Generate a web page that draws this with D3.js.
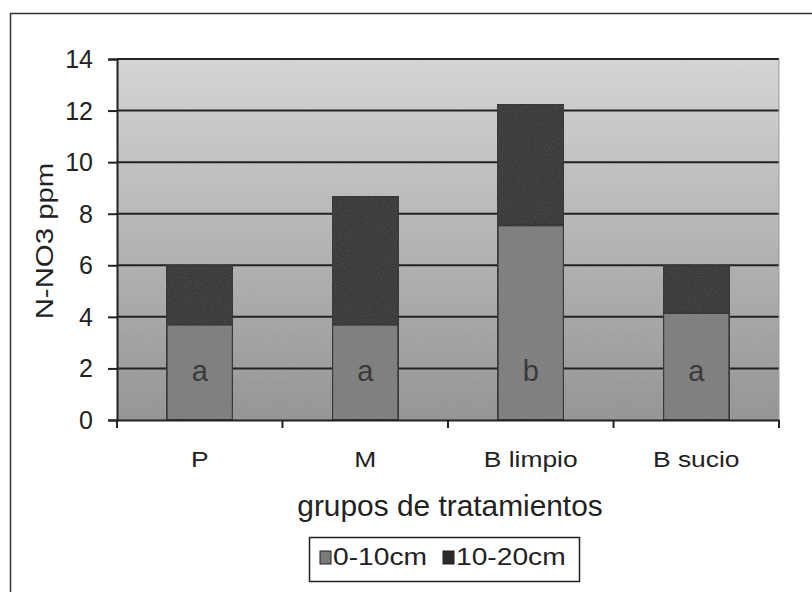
<!DOCTYPE html>
<html>
<head>
<meta charset="utf-8">
<script src="https://cdn.jsdelivr.net/npm/d3@7"></script>
<style>
  html, body { margin: 0; padding: 0; background: #fff; }
  svg { display: block; font-family: "Liberation Sans", Arial, sans-serif; }
</style>
</head>
<body>
<svg id="chart" width="812" height="592"></svg>
<script>
// Nitrate (N-NO3, ppm) by treatment group, stacked by soil depth
const categories = ["P", "M", "B limpio", "B sucio"];
const depth0to10 = [3.7, 3.7, 7.55, 4.15];
const depth10to20 = [2.3, 4.95, 4.7, 1.83];
const groupLetters = ["a", "a", "b", "a"];
const seriesNames = ["0-10cm", "10-20cm"];
const yTicks = [0, 2, 4, 6, 8, 10, 12, 14];

const svg = d3.select("#chart");
const W = 812, H = 592;
const plot = { left: 117, right: 779, top: 59, bottom: 420 };
const ink = "#222";
const colors = ["#7b7b7b", "#2b2b2b"];
const FONT = "Liberation Sans, Arial, sans-serif";

// outer frame (top and left edges are inside the view)
svg.append("rect").attr("x", 10.5).attr("y", 13.5)
  .attr("width", W + 20).attr("height", H + 20)
  .attr("fill", "#fff").attr("stroke", "#333").attr("stroke-width", 1.5);

const x = d3.scaleBand().domain(categories).range([plot.left, plot.right])
  .paddingInner(0.6).paddingOuter(0.3);
const xBand = d3.scaleBand().domain(categories).range([plot.left, plot.right]);
const y = d3.scaleLinear().domain([0, 14]).range([plot.bottom, plot.top]);

// plot background gradient with a light grain
const defs = svg.append("defs");
const grad = defs.append("linearGradient").attr("id", "bg")
  .attr("x1", 0).attr("y1", 0).attr("x2", 0).attr("y2", 1);
grad.append("stop").attr("offset", "0%").attr("stop-color", "#d6d6d6");
grad.append("stop").attr("offset", "100%").attr("stop-color", "#939393");

const noise = defs.append("filter").attr("id", "grain")
  .attr("x", 0).attr("y", 0).attr("width", 1).attr("height", 1);
noise.append("feTurbulence").attr("type", "fractalNoise")
  .attr("baseFrequency", 0.9).attr("numOctaves", 1).attr("seed", 3).attr("result", "n");
noise.append("feColorMatrix").attr("in", "n").attr("type", "matrix")
  .attr("values", "0 0 0 0 0.5  0 0 0 0 0.5  0 0 0 0 0.5  0 0 0 0.12 0").attr("result", "g");
noise.append("feComposite").attr("in", "g").attr("in2", "SourceGraphic").attr("operator", "in").attr("result", "gc");
const merge = noise.append("feMerge");
merge.append("feMergeNode").attr("in", "SourceGraphic");
merge.append("feMergeNode").attr("in", "gc");

svg.append("rect")
  .attr("x", plot.left).attr("y", plot.top)
  .attr("width", plot.right - plot.left).attr("height", plot.bottom - plot.top)
  .attr("fill", "url(#bg)").attr("filter", "url(#grain)");

// horizontal gridlines
svg.append("g").selectAll("line").data(yTicks.filter(d => d > 0)).join("line")
  .attr("x1", plot.left).attr("x2", plot.right)
  .attr("y1", d => y(d)).attr("y2", d => y(d))
  .attr("stroke", ink).attr("stroke-width", 2);

// right edge of plot area
svg.append("line").attr("x1", plot.right).attr("x2", plot.right)
  .attr("y1", plot.top).attr("y2", plot.bottom)
  .attr("stroke", "#999").attr("stroke-width", 1);

// stacked bars
const rows = categories.map((c, i) => ({ cat: c, s0: depth0to10[i], s1: depth10to20[i] }));
const stacked = d3.stack().keys(["s0", "s1"])(rows);
svg.append("g").selectAll("g").data(stacked).join("g")
  .attr("fill", (d, i) => colors[i])
  .selectAll("rect").data(d => d).join("rect")
  .attr("x", d => x(d.data.cat))
  .attr("y", d => y(d[1]))
  .attr("width", x.bandwidth())
  .attr("height", d => y(d[0]) - y(d[1]))
  .attr("stroke", ink).attr("stroke-width", 2)
  .attr("filter", "url(#grain)");

// group letters
svg.append("g").selectAll("text").data(categories).join("text")
  .attr("x", d => x(d) + x.bandwidth() / 2)
  .attr("y", 381)
  .attr("text-anchor", "middle")
  .attr("font-size", 29).attr("fill", "#3a3a3a")
  .text((d, i) => groupLetters[i]);

// y axis
const yAxis = svg.append("g").attr("transform", `translate(${plot.left},0)`)
  .call(d3.axisLeft(y).tickValues(yTicks).tickSize(9).tickPadding(15));
yAxis.select(".domain").attr("stroke", ink).attr("stroke-width", 2);
yAxis.selectAll(".tick line").attr("stroke", ink).attr("stroke-width", 2);
yAxis.selectAll(".tick text").attr("font-size", 25).attr("fill", ink)
  .attr("font-family", FONT).attr("dy", "0.34em");

// x axis
const xAxis = svg.append("g").attr("transform", `translate(0,${plot.bottom})`)
  .call(d3.axisBottom(xBand).tickSize(0));
xAxis.select(".domain").attr("stroke", ink).attr("stroke-width", 2);
xAxis.selectAll(".tick text")
  .attr("y", 47).attr("dy", 0)
  .attr("font-size", 22).attr("fill", ink).attr("font-family", FONT)
  .attr("transform", "scale(1.2,1)");
svg.append("g").selectAll("line")
  .data(categories.map(c => xBand(c)).concat([plot.right]))
  .join("line")
  .attr("x1", d => d).attr("x2", d => d)
  .attr("y1", plot.bottom).attr("y2", plot.bottom + 8)
  .attr("stroke", ink).attr("stroke-width", 2);

// axis titles
svg.append("text")
  .attr("transform", `translate(53,241) rotate(-90) scale(1.25,1)`)
  .attr("text-anchor", "middle").attr("font-size", 23.5).attr("fill", ink)
  .text("N-NO3 ppm");
svg.append("text")
  .attr("transform", "translate(450,516) scale(1.03,1)")
  .attr("text-anchor", "middle").attr("font-size", 29).attr("fill", ink)
  .text("grupos de tratamientos");

// legend
const lg = svg.append("g");
lg.append("rect").attr("x", 309.5).attr("y", 537.5).attr("width", 270).attr("height", 44)
  .attr("fill", "#fff").attr("stroke", ink).attr("stroke-width", 1.5);
const legendX = [320, 443];
const items = lg.selectAll("g.item").data(seriesNames).join("g").attr("class", "item")
  .attr("transform", (d, i) => `translate(${legendX[i]},0)`);
items.append("rect").attr("y", 551).attr("width", 11).attr("height", 13)
  .attr("fill", (d, i) => colors[i]).attr("stroke", ink).attr("stroke-width", 1);
items.append("text")
  .attr("transform", "translate(13,565) scale(1.2,1)")
  .attr("font-size", 23.5).attr("fill", ink).text(d => d);
</script>
</body>
</html>
